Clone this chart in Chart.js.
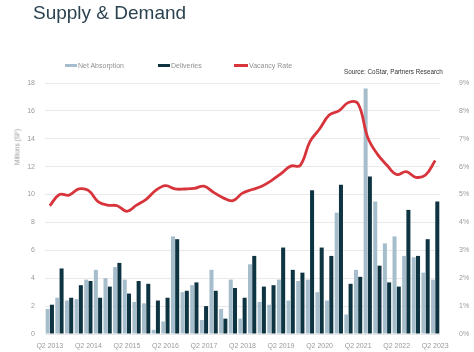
<!DOCTYPE html>
<html>
<head>
<meta charset="utf-8">
<script src="https://cdn.jsdelivr.net/npm/chart.js@4.4.1/dist/chart.umd.min.js"></script>
<style>
  html, body { margin: 0; padding: 0; background: #fff; }
  #wrap { position: relative; width: 474px; height: 352px; overflow: hidden; font-family: 'Liberation Sans', Arial, sans-serif; }
  #chart { position: absolute; left: 0; top: 0; }
  .title { position: absolute; left: 33px; top: 2px; font-size: 19px; color: #2b4350; }
  .legend { position: absolute; top: 62px; font-size: 7px; color: #909090; white-space: nowrap; }
  .legend i { display: inline-block; width: 12px; height: 3px; vertical-align: middle; margin-right: 1px; position: relative; top: -1px; }
  .source { position: absolute; left: 344px; top: 68px; font-size: 6.3px; color: #333; white-space: nowrap; }
  .ytitle { position: absolute; left: 17px; top: 147px; font-size: 6.5px; color: #9a9a9a; white-space: nowrap;
            transform: translate(-50%, -50%) rotate(-90deg); }
</style>
</head>
<body>
<div id="wrap">
  <canvas id="chart" width="474" height="352"></canvas>
  <div class="title">Supply &amp; Demand</div>
  <div class="legend" style="left:65px"><i style="background:#a6bdcc"></i>Net Absorption</div>
  <div class="legend" style="left:158px"><i style="background:#0e3441"></i>Deliveries</div>
  <div class="legend" style="left:234px"><i style="background:#d8343c;width:14px"></i>Vacancy Rate</div>
  <div class="source">Source: CoStar, Partners Research</div>
  <div class="ytitle">Millions (SF)</div>
</div>
<script>
// Quarters Q2 2013 .. Q2 2023
const quarters = [
  'Q2 2013', 'Q3 2013', 'Q4 2013', 'Q1 2014',
  'Q2 2014', 'Q3 2014', 'Q4 2014', 'Q1 2015',
  'Q2 2015', 'Q3 2015', 'Q4 2015', 'Q1 2016',
  'Q2 2016', 'Q3 2016', 'Q4 2016', 'Q1 2017',
  'Q2 2017', 'Q3 2017', 'Q4 2017', 'Q1 2018',
  'Q2 2018', 'Q3 2018', 'Q4 2018', 'Q1 2019',
  'Q2 2019', 'Q3 2019', 'Q4 2019', 'Q1 2020',
  'Q2 2020', 'Q3 2020', 'Q4 2020', 'Q1 2021',
  'Q2 2021', 'Q3 2021', 'Q4 2021', 'Q1 2022',
  'Q2 2022', 'Q3 2022', 'Q4 2022', 'Q1 2023',
  'Q2 2023'
]

// Millions SF
const netAbsorption = [
  1.8, 2.6, 2.4, 2.5,
  3.9, 4.6, 4.0, 4.8,
  3.9, 2.3, 2.2, 0.3,
  0.9, 7.0, 3.0, 3.5,
  1.0, 4.6, 1.8, 3.9,
  1.1, 5.0, 2.3, 2.1,
  3.9, 2.4, 3.8, 3.9,
  3.0, 2.4, 8.7, 1.4,
  4.6, 17.6, 9.5, 6.5,
  7.0, 5.6, 5.5, 4.4,
  3.9
]

const deliveries = [
  2.1, 4.7, 2.6, 3.5,
  3.8, 2.6, 3.4, 5.1,
  2.9, 3.8, 3.6, 2.4,
  2.6, 6.8, 3.1, 3.7,
  2.0, 3.1, 1.1, 3.3,
  2.6, 5.6, 3.4, 3.5,
  6.2, 4.6, 4.4, 10.3,
  6.2, 5.6, 10.7, 3.6,
  4.1, 11.3, 4.9, 3.7,
  3.4, 8.9, 5.6, 6.8,
  9.5
]

// Percent
const vacancyRate = [
  4.6, 5.0, 4.98, 5.2,
  5.15, 4.75, 4.62, 4.6,
  4.4, 4.62, 4.83, 5.15,
  5.32, 5.2, 5.2, 5.22,
  5.3, 5.08, 4.88, 4.78,
  5.05, 5.18, 5.3, 5.5,
  5.75, 6.02, 6.05, 6.9,
  7.35, 7.85, 8.0, 8.3,
  8.25, 7.05, 6.45, 6.05,
  5.72, 5.82, 5.62, 5.7,
  6.22
]

const tickFont = { family: "'Liberation Sans', Arial, sans-serif", size: 7 }
const tickColor = '#9a9a9a'

new Chart(document.getElementById('chart'), {
  data: {
    labels: quarters,
    datasets: [
      {
        type: 'line',
        label: 'Vacancy Rate',
        data: vacancyRate,
        yAxisID: 'y2',
        borderColor: '#d8343c',
        borderWidth: 2.8,
        pointRadius: 0,
        tension: 0.4,
        fill: false,
        order: 0,
      },
      {
        type: 'bar',
        label: 'Net Absorption',
        data: netAbsorption,
        yAxisID: 'y',
        backgroundColor: '#a6bdcc',
        categoryPercentage: 0.88,
        barPercentage: 0.95,
        order: 1,
      },
      {
        type: 'bar',
        label: 'Deliveries',
        data: deliveries,
        yAxisID: 'y',
        backgroundColor: '#0e3441',
        categoryPercentage: 0.88,
        barPercentage: 0.95,
        order: 1,
      },
    ],
  },
  options: {
    responsive: false,
    animation: false,
    layout: { padding: { top: 83, left: 0, right: 0, bottom: 0 } },
    plugins: {
      legend: { display: false },
      title: { display: false },
      tooltip: { enabled: false },
    },
    scales: {
      x: {
        grid: { display: false },
        border: { display: false },
        ticks: {
          autoSkip: false,
          maxRotation: 0,
          color: tickColor,
          font: tickFont,
          padding: 0,
          callback: function(value, index) {
            return index % 4 === 0 ? quarters[index] : ''
          },
        },
        afterFit: function(scale) { scale.height = 18 },
      },
      y: {
        position: 'left',
        min: 0,
        max: 18,
        grid: { color: '#e9e9e9', lineWidth: 1, drawTicks: false },
        border: { display: false },
        ticks: { stepSize: 2, color: tickColor, font: tickFont, padding: 10 },
        afterFit: function(scale) { scale.width = 45 },
      },
      y2: {
        position: 'right',
        min: 0,
        max: 9,
        grid: { display: false },
        border: { display: false },
        ticks: {
          stepSize: 1,
          color: tickColor,
          font: tickFont,
          padding: 11,
          callback: function(value) { return value + '%' },
        },
        afterFit: function(scale) { scale.width = 34 },
      },
    },
  },
})
</script>
</body>
</html>
